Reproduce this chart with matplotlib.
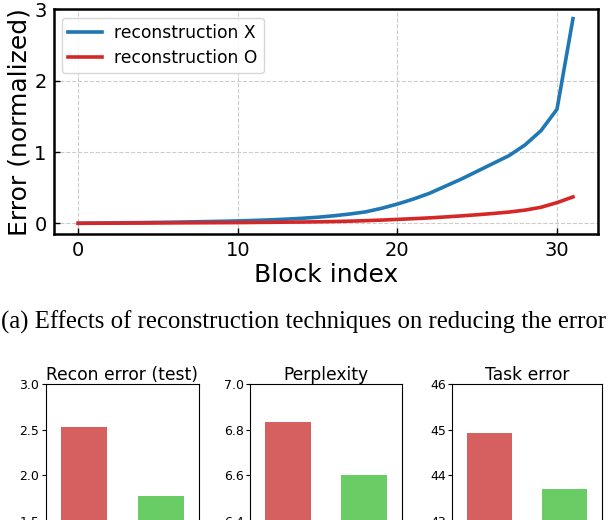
import matplotlib
matplotlib.use("Agg")
import matplotlib.pyplot as plt
import numpy as np

W, H = 608, 520

# ---- data ----
block_index = list(range(32))
recon_x = [0.0, 0.003, 0.005, 0.008, 0.01, 0.013, 0.016, 0.02, 0.024, 0.028,
           0.033, 0.04, 0.048, 0.058, 0.07, 0.085, 0.105, 0.13, 0.16, 0.21,
           0.27, 0.34, 0.42, 0.52, 0.62, 0.73, 0.84, 0.95, 1.10, 1.30,
           1.60, 2.87]
recon_o = [0.0, 0.001, 0.002, 0.003, 0.004, 0.005, 0.006, 0.007, 0.008, 0.009,
           0.010, 0.012, 0.014, 0.016, 0.018, 0.021, 0.025, 0.030, 0.037, 0.045,
           0.055, 0.065, 0.076, 0.089, 0.104, 0.12, 0.138, 0.158, 0.185, 0.225,
           0.29, 0.37]
series_labels = ["reconstruction X", "reconstruction O"]

bar_titles = ["Recon error (test)", "Perplexity", "Task error"]
bar_values = [[2.53, 1.77], [6.835, 6.603], [44.93, 43.70]]
bar_ylims = [(1.5, 3.0), (6.4, 7.0), (43, 46)]
bar_yticks = [[1.5, 2.0, 2.5, 3.0], [6.4, 6.6, 6.8, 7.0], [43, 44, 45, 46]]
bar_yticklabels = [["1.5", "2.0", "2.5", "3.0"], ["6.4", "6.6", "6.8", "7.0"],
                   ["43", "44", "45", "46"]]
caption = "(a) Effects of reconstruction techniques on reducing the error"

fig = plt.figure(figsize=(W / 100, H / 100), dpi=100)


def px_axes(left, top, right, bottom):
    return fig.add_axes([left / W, 1 - bottom / H, (right - left) / W, (bottom - top) / H])


# ---- top line chart ----
ax = px_axes(53.5, 9.4, 597.7, 234)
ax.plot(block_index, recon_x, color="#1f77b4", lw=2.6, label=series_labels[0])
ax.plot(block_index, recon_o, color="#d62728", lw=2.6, label=series_labels[1])
ax.set_xlim(-1.55, 32.55)
ax.set_ylim(-0.15, 3.0)
ax.set_xticks([0, 10, 20, 30])
ax.set_yticks([0, 1, 2, 3])
ax.tick_params(direction="in", labelsize=14, length=4, width=1, pad=5)
ax.grid(True, linestyle="--", color="#cccccc", lw=0.8)
for s in ax.spines.values():
    s.set_linewidth(1.8)
ax.set_xlabel("Block index", fontsize=18, labelpad=2)
ax.set_ylabel("Error (normalized)", fontsize=18, labelpad=2)
ax.legend(loc="upper left", fontsize=12.3, handlelength=2.0, borderpad=0.36,
          labelspacing=0.42, handletextpad=0.7, borderaxespad=0.5)

# ---- caption ----
fig.text(0.5, 1 - 322 / H, caption, ha="center", va="center",
         fontsize=17.8, family="Liberation Serif")

# ---- bottom bar charts ----
bar_boxes = [(45.7, 199), (250, 402.3), (452.3, 602.3)]
colors = ["#d65f5f", "#6acc64"]
for i, (l, r) in enumerate(bar_boxes):
    bx = px_axes(l, 384, r, 521)
    bx.bar([0, 1], bar_values[i], width=0.6, color=colors)
    bx.set_xlim(-0.5, 1.5)
    bx.set_ylim(*bar_ylims[i])
    bx.set_yticks(bar_yticks[i])
    bx.set_yticklabels(bar_yticklabels[i])
    bx.set_xticks([])
    bx.tick_params(labelsize=9, length=3, pad=1.5)
    bx.set_title(bar_titles[i], fontsize=12.3, pad=2)

fig.savefig("out.png", dpi=100)
